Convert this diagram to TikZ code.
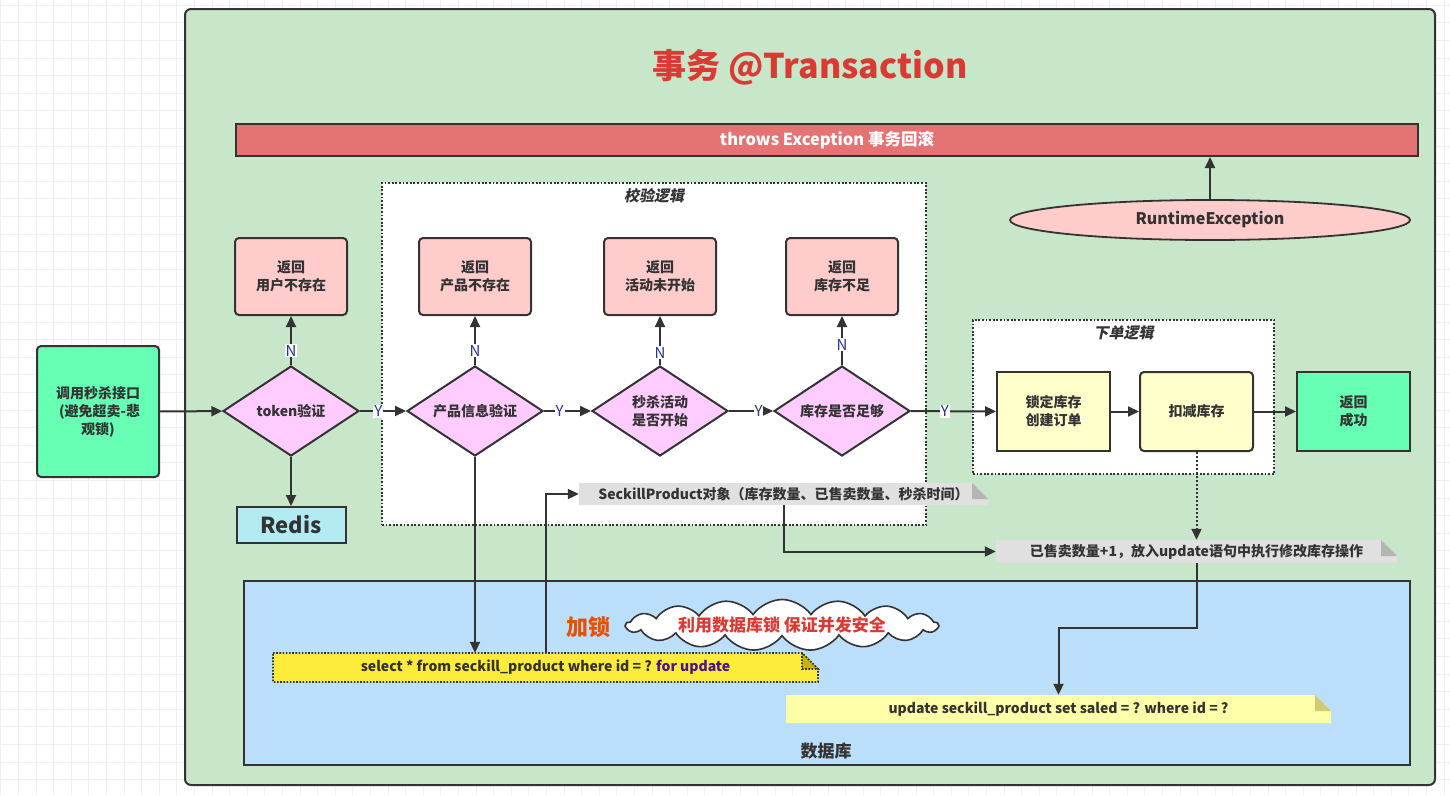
\documentclass[tikz,border=0pt]{standalone}
\usepackage{fontspec}
\setmainfont{Noto Sans CJK SC}
\newfontfamily\slantcjk[FakeSlant=0.2]{Noto Sans CJK SC}
\usepackage{xcolor}
\usepackage{tikz}
\usetikzlibrary{arrows.meta,positioning,calc,shapes.geometric,shapes.symbols}
\definecolor{tgreen}{HTML}{C8E6C9}
\definecolor{tline}{HTML}{333333}
\definecolor{tred}{HTML}{D93B34}
\definecolor{tbar}{HTML}{E57373}
\definecolor{tpink}{HTML}{FFCCCC}
\definecolor{tviolet}{HTML}{FFCCFF}
\definecolor{tmint}{HTML}{66FFB3}
\definecolor{tcyan}{HTML}{B2EBF2}
\definecolor{tcream}{HTML}{FFFFCC}
\definecolor{tblue}{HTML}{BBDEFB}
\definecolor{tnote}{HTML}{E0E0E0}
\definecolor{tnotefold}{HTML}{B5B5B5}
\definecolor{tyellow}{HTML}{FFEB3B}
\definecolor{tyellowfold}{HTML}{C9B400}
\definecolor{tlemon}{HTML}{FFFFAA}
\definecolor{tlemonfold}{HTML}{CFCB75}
\definecolor{torange}{HTML}{E65100}
\definecolor{tnavy}{HTML}{283593}
\definecolor{tpurple}{HTML}{4A148C}
\definecolor{tgrid}{HTML}{F0F0F0}
\newcommand{\fs}[2]{\fontsize{#1}{#2}\selectfont}
% note with folded corner: name, x1, y1, x2, y2, body style, fold style, text
\newcommand{\notebox}[8]{%
  \path[#6] (#2,#3) -- ({#4-16},#3) -- (#4,{#3+16}) -- (#4,#5) -- (#2,#5) -- cycle;
  \path[#7] ({#4-16},#3) -- ({#4-16},{#3+16}) -- (#4,{#3+16}) -- cycle;
  \node[notetext, minimum width={(#4-#2)*1pt}, minimum height={(#5-#3)*1pt}] (#1)
    at ({(#2+#4)/2},{(#3+#5)/2}) {#8};
}
\tikzset{
  flowarrow/.style={-{Triangle[length=11pt,width=10pt]}, line width=2pt, draw=tline},
  dotarrow/.style={flowarrow, dash pattern=on 2pt off 2pt},
  retbox/.style={draw=tline, line width=2pt, rounded corners=4pt, fill=tpink,
    align=center, minimum width=112pt, minimum height=77pt, inner sep=2pt,
    text=tline, font=\fs{14}{18}\bfseries},
  check/.style={diamond, aspect=1.5, draw=tline, line width=2pt, fill=tviolet, align=center,
    minimum width=136pt, minimum height=90pt, inner sep=0pt, text=tline,
    font=\fs{14}{18}\bfseries},
  stepbox/.style={draw=tline, line width=2pt, fill=tcream, align=center,
    minimum width=113pt, minimum height=79pt, inner sep=2pt, text=tline,
    font=\fs{14}{18}\bfseries},
  area/.style={draw=tline, line width=1.8pt, dash pattern=on 1.8pt off 1.8pt, fill=white},
  areatitle/.style={font=\slantcjk\fs{15}{18}\bfseries, text=tline, inner sep=0pt},
  yn/.style={fill=white, inner sep=1pt, text=tnavy, font=\fs{15}{16}},
  notetext/.style={inner sep=0pt, text=tline, font=\fs{14}{16}\bfseries}
}
\begin{document}
\begin{tikzpicture}[x=1pt, y=-1pt]
\useasboundingbox (0,0) rectangle (1450,795);
% background grid
\foreach \gx [evaluate=\gx as \gpos using 0.7+17.6*\gx] in {0,...,82}
  \draw[tgrid, line width=0.8pt] (\gpos,0) -- (\gpos,795);
\foreach \gy [evaluate=\gy as \gpos using 5.1+17.6*\gy] in {0,...,45}
  \draw[tgrid, line width=0.8pt] (0,\gpos) -- (1450,\gpos);

% transaction frame
\draw[draw=tline, line width=2pt, fill=tgreen, rounded corners=6pt] (185,9) rectangle (1435,785);
\node[font=\fs{34}{40}\bfseries, text=tred] (title) at (810,67) {事务 @Transaction};
\node[draw=tline, line width=2pt, fill=tbar, minimum width=1182pt, minimum height=32pt,
  inner sep=0pt, text=white, font=\fs{16.5}{18}\bfseries] (rollback) at (827,140) {throws Exception 事务回滚};
\node[ellipse, draw=tline, line width=1.8pt, fill=tpink, minimum width=400pt, minimum height=40pt,
  inner sep=0pt, text=tline, font=\fs{16}{18}\bfseries] (rtexc) at (1210,220) {RuntimeException};

% groups
\node[area, minimum width=544pt, minimum height=342pt] (checkarea) at (654,354) {};
\node[areatitle, below=6pt of checkarea.north] (checktitle) {校验逻辑};
\node[area, minimum width=301pt, minimum height=154pt] (orderarea) at (1123.5,397) {};
\node[areatitle, below=6pt of orderarea.north] (ordertitle) {下单逻辑};
\node[draw=tline, line width=2pt, fill=tblue, minimum width=1166pt, minimum height=184pt] (db) at (827,673) {};
\node[font=\fs{17}{20}\bfseries, text=tline] (dblabel) at (826,751) {数据库};

% main flow
\node[draw=tline, line width=2pt, fill=tmint, rounded corners=4pt, minimum width=122pt,
  minimum height=131pt, align=center, text=tline, font=\fs{14}{18}\bfseries] (entry) at (98,411.5)
  {调用秒杀接口\\\ (避免超卖-悲\\观锁)};
\node[check] (token) at (291,411) {token验证};
\node[retbox, above=49pt of token] (nouser) {返回\\用户不存在};
\node[draw=tline, line width=2pt, fill=tcyan, minimum width=109pt, minimum height=36pt,
  inner sep=0pt, text=tline, font=\fs{22}{24}\bfseries, below=49pt of token] (redis) {Redis};
\node[check] (prodchk) at (475,411) {产品信息验证};
\node[retbox, above=49pt of prodchk] (noprod) {返回\\产品不存在};
\node[check] (actchk) at (660,411) {秒杀活动\\是否开始};
\node[retbox, above=49pt of actchk] (noact) {返回\\活动未开始};
\node[check] (stockchk) at (842,411) {库存是否足够};
\node[retbox, above=49pt of stockchk] (nostock) {返回\\库存不足};
\node[stepbox] (lockorder) at (1053.5,411.5) {锁定库存\\创建订单};
\node[stepbox, rounded corners=4pt] (deduct) at (1196.5,411.5) {扣减库存};
\node[stepbox, fill=tmint] (done) at (1353.5,411.5) {返回\\成功};

% notes
\notebox{prodinfo}{579}{483}{988}{505}{fill=tnote}{fill=tnotefold}{SeckillProduct对象（库存数量、已售卖数量、秒杀时间）}
\notebox{soldinfo}{996}{540}{1397}{563}{fill=tnote}{fill=tnotefold}{已售卖数量+1，放入update语句中执行修改库存操作}
\notebox{selsql}{273}{653}{818}{682}{fill=tyellow, draw=tline, line width=1.6pt, dash pattern=on 1.6pt off 1.6pt}
  {fill=tyellowfold, draw=tline, line width=1.6pt, dash pattern=on 1.6pt off 1.6pt}
  {select * from seckill\_product where id = ? \textcolor{tpurple}{for update}}
\notebox{updsql}{786}{695}{1331}{723}{fill=tlemon}{fill=tlemonfold}{update seckill\_product set saled = ? where id = ?}

\node[font=\fs{22}{24}\bfseries, text=torange] (locklbl) at (588,627) {加锁};
\node[cloud, cloud puffs=17, cloud puff arc=110, cloud ignores aspect, draw=tline, line width=1.6pt,
  fill=white, minimum width=312pt, minimum height=36pt, inner sep=0pt, text=tred,
  font=\fs{17}{20}\bfseries] (safety) at (782,625) {利用数据库锁 保证并发安全};

% connectors
\draw[flowarrow] (rtexc.north) -- (rtexc.north |- rollback.south);
\draw[flowarrow] (entry) -- (token);
\draw[flowarrow] (token) -- node[yn, pos=0.4] {Y} (prodchk);
\draw[flowarrow] (prodchk) -- node[yn, pos=0.33] {Y} (actchk);
\draw[flowarrow] (actchk) -- node[yn, pos=0.67] {Y} (stockchk);
\draw[flowarrow] (stockchk) -- node[yn, pos=0.4] {Y} (lockorder);
\draw[flowarrow] (lockorder) -- (deduct);
\draw[flowarrow] (deduct) -- (done);
\draw[flowarrow] (token) -- node[yn, pos=0.29] {N} (nouser);
\draw[flowarrow] (prodchk) -- node[yn, pos=0.29] {N} (noprod);
\draw[flowarrow] (actchk) -- node[yn, pos=0.25] {N} (noact);
\draw[flowarrow] (stockchk) -- node[yn, pos=0.41] {N} (nostock);
\draw[flowarrow] (token) -- (redis);
\draw[flowarrow] (prodchk.south) -- (prodchk.south |- selsql.north);
\draw[flowarrow] (selsql.north) |- (prodinfo.west);
\draw[flowarrow] (prodinfo.south) |- (soldinfo.west);
\draw[dotarrow] (deduct) -- (soldinfo);
\draw[flowarrow] (soldinfo.south) -- ++(0,65) -| (updsql.north);
\end{tikzpicture}
\end{document}
